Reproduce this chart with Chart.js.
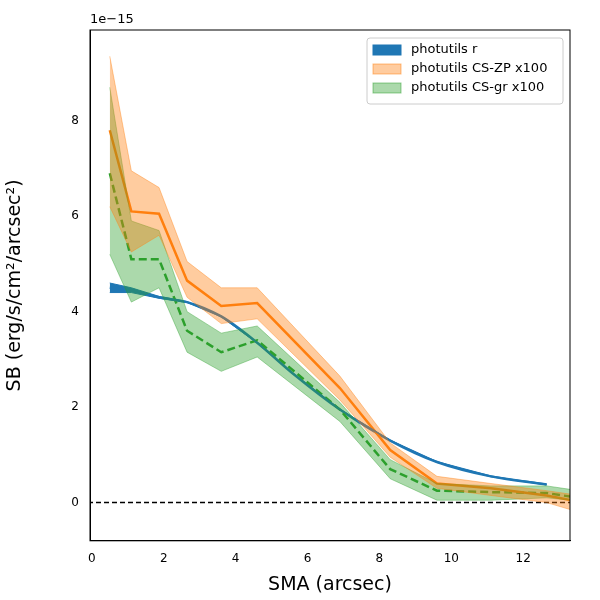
<!DOCTYPE html>
<html><head><script src="https://cdn.jsdelivr.net/npm/chart.js@4"></script>
<style>body{margin:0;background:#fff}#w{width:600px;height:600px}</style></head>
<body><div id="w"><canvas id="c"></canvas></div>
<script>
const sma=[0.5,1.1,1.87,2.65,3.6,4.6,6.9,8.3,9.6,11.1,12.65,14];
const zpMid=[7.8,6.1,6.05,4.65,4.12,4.18,2.4,1.1,0.4,0.3,0.15,-0.05];
const zpHi=[9.35,6.95,6.6,5.05,4.5,4.5,2.65,1.25,0.55,0.4,0.25,0.1];
const zpLo=[6.2,5.25,5.6,4.3,3.75,3.85,2.15,0.95,0.3,0.15,0.0,-0.3];
const grMid=[6.9,5.1,5.1,3.6,3.15,3.4,1.95,0.7,0.25,0.22,0.2,0.05];
const grHi=[8.7,5.9,5.7,4.0,3.55,3.7,2.1,0.9,0.4,0.35,0.35,0.2];
const grLo=[5.2,4.2,4.5,3.15,2.75,3.05,1.7,0.5,0.05,0.05,0.1,0.0];
const rSma=[0.5,1.1,1.87,2.65,3.6,4.6,5.6,6.9,8.3,9.6,11.1,12.65];
const rMid=[4.5,4.45,4.3,4.2,3.9,3.35,2.7,1.95,1.3,0.85,0.55,0.38];
const rHi=[4.6,4.5,4.32,4.21,3.91,3.36,2.71,1.96,1.31,0.86,0.56,0.39];
const rLo=[4.4,4.4,4.28,4.19,3.89,3.34,2.69,1.94,1.29,0.84,0.54,0.37];
const xTicks=[0,2,4,6,8,10,12], yTicks=[0,2,4,6,8];
const legendNames=['photutils r','photutils CS-ZP x100','photutils CS-gr x100'];
const pts=(xs,ys)=>xs.map((x,i)=>({x,y:ys[i]}));
const base={pointRadius:0,borderWidth:0,tension:0};
const ds=[
 {...base,data:pts(sma,zpLo),borderColor:'rgba(255,127,14,0.4)',borderWidth:1},
 {...base,data:pts(sma,zpHi),borderColor:'rgba(255,127,14,0.4)',borderWidth:1,fill:0,backgroundColor:'rgba(255,127,14,0.4)'},
 {...base,data:pts(sma,grLo),borderColor:'rgba(44,160,44,0.4)',borderWidth:1},
 {...base,data:pts(sma,grHi),borderColor:'rgba(44,160,44,0.4)',borderWidth:1,fill:2,backgroundColor:'rgba(44,160,44,0.4)'},
 {...base,data:pts(rSma,rLo),borderColor:'#1f77b4',borderWidth:1},
 {...base,data:pts(rSma,rHi),borderColor:'#1f77b4',borderWidth:1,fill:4,backgroundColor:'#1f77b4'},
 {...base,data:pts(sma,zpMid),borderColor:'#ff7f0e',borderWidth:2.5},
 {...base,data:pts(sma,grMid),borderColor:'#2ca02c',borderWidth:2.5,borderDash:[8,4]},
 {...base,data:pts(rSma,rMid),borderColor:'#1f77b4',borderWidth:2.5,cubicInterpolationMode:'monotone'},
 {...base,data:[{x:-5,y:0},{x:20,y:0}],borderColor:'#000',borderWidth:1.5,borderDash:[5,3]}
];
const extra={id:'extra',afterDraw(ch){
 const c=ch.ctx,a=ch.chartArea;
 c.save();c.strokeStyle='#000';c.lineWidth=1;c.strokeRect(a.left,a.top,a.right-a.left,a.bottom-a.top);
 c.fillStyle='#000';c.font='13px "DejaVu Sans"';c.textAlign='left';c.textBaseline='bottom';
 c.fillText('1e\u221215',a.left,a.top-4);
 const x0=367,y0=38,w=196,h=66;
 c.fillStyle='rgba(255,255,255,0.8)';c.strokeStyle='#ccc';
 c.beginPath();c.roundRect(x0,y0,w,h,3);c.fill();c.stroke();
 const cols=[['#1f77b4','#1f77b4'],['rgba(255,127,14,0.4)','rgba(255,127,14,0.5)'],['rgba(44,160,44,0.4)','rgba(44,160,44,0.5)']];
 legendNames.forEach((n,i)=>{const y=y0+11+i*19;
  c.fillStyle=cols[i][0];c.fillRect(x0+6,y-4,28,10);c.strokeStyle=cols[i][1];c.strokeRect(x0+6,y-4,28,10);
  c.fillStyle='#000';c.textBaseline='middle';c.font='13px "DejaVu Sans"';c.fillText(n,x0+44,y+1);});
 c.restore();}};
new Chart(document.getElementById('c'),{type:'line',data:{datasets:ds},plugins:[extra],
 options:{animation:false,responsive:true,maintainAspectRatio:false,
 layout:{padding:{top:30,right:30,left:0,bottom:0}},
 plugins:{legend:{display:false},tooltip:{enabled:false}},
 scales:{
  x:{type:'linear',min:-0.05,max:13.3,grid:{display:false,drawTicks:true},border:{color:'#000'},
   afterBuildTicks(s){s.ticks=xTicks.map(v=>({value:v}));},
   ticks:{color:'#000',font:{size:12,family:'DejaVu Sans'},maxRotation:0},
   title:{display:true,text:'SMA (arcsec)',color:'#000',font:{size:19,family:'DejaVu Sans'}}},
  y:{min:-0.8,max:9.9,grid:{display:false},border:{color:'#000'},
   afterBuildTicks(s){s.ticks=yTicks.map(v=>({value:v}));},
   afterFit(s){s.width=90;},
   ticks:{color:'#000',font:{size:12,family:'DejaVu Sans'}},
   title:{display:true,text:'SB (erg/s/cm\u00b2/arcsec\u00b2)',color:'#000',font:{size:19,family:'DejaVu Sans'}}}}}});
</script></body></html>
